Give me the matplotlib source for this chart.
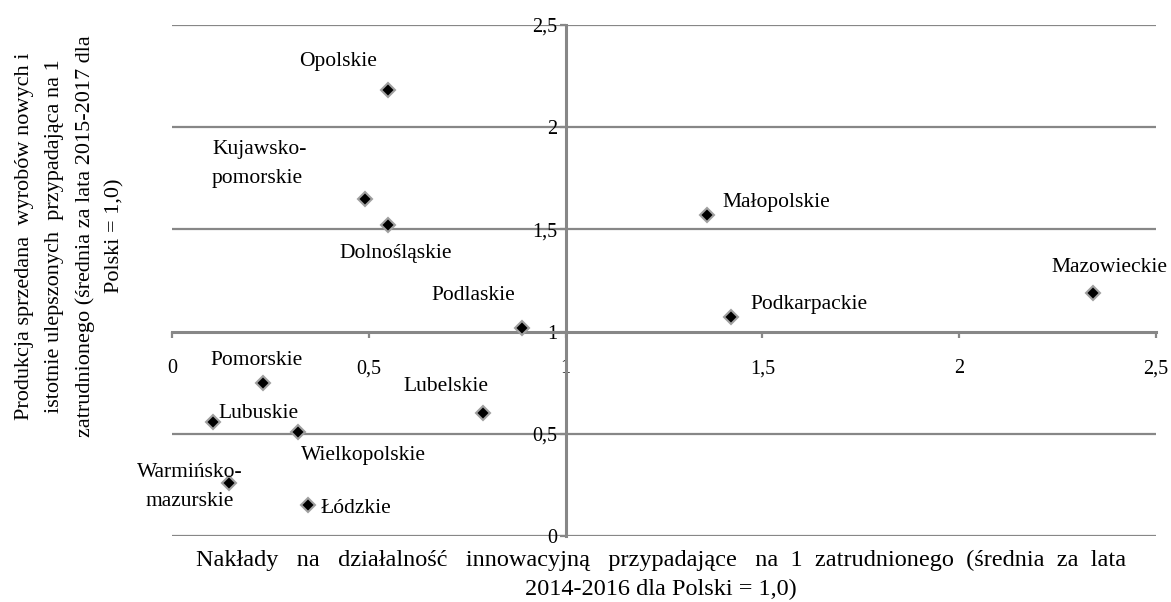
import matplotlib
matplotlib.use("Agg")
import matplotlib.pyplot as plt
from matplotlib.ticker import FuncFormatter

plt.rcParams['font.family'] = ['Liberation Serif', 'DejaVu Serif']

# dane: wojewodztwa
regions = ["Opolskie", "Kujawsko-\npomorskie", "Dolnośląskie", "Podlaskie",
           "Małopolskie", "Mazowieckie", "Podkarpackie", "Pomorskie",
           "Lubuskie", "Wielkopolskie", "Lubelskie", "Warmińsko-\nmazurskie",
           "Łódzkie"]
nakłady = [0.55, 0.49, 0.55, 0.89, 1.36, 2.34, 1.42, 0.23, 0.105, 0.32, 0.79, 0.145, 0.345]
produkcja = [2.18, 1.65, 1.52, 1.02, 1.57, 1.19, 1.07, 0.75, 0.56, 0.51, 0.60, 0.26, 0.15]
ticks = [0, 0.5, 1, 1.5, 2, 2.5]

# label offsets (points), alignment, line spacing
label_style = {
    "Opolskie": ((-36, 21), 'center', 1.0),
    "Kujawsko-\npomorskie": ((-110, 25), 'left', 1.75),
    "Dolnośląskie": ((5, -20), 'center', 1.0),
    "Podlaskie": ((-35, 23), 'center', 1.0),
    "Małopolskie": ((11, 9), 'left', 1.0),
    "Mazowieckie": ((12, 18), 'center', 1.0),
    "Podkarpackie": ((14, 9), 'left', 1.0),
    "Pomorskie": ((-4, 16), 'center', 1.0),
    "Lubuskie": ((4, 6), 'left', 1.0),
    "Wielkopolskie": ((47, -17), 'center', 1.0),
    "Lubelskie": ((-27, 19), 'center', 1.0),
    "Warmińsko-\nmazurskie": ((-28, -3), 'center', 1.65),
    "Łódzkie": ((9, -2), 'left', 1.0),
}

fig = plt.figure(figsize=(11.71, 6.02), dpi=100)
ax = fig.add_axes([172 / 1171, 66 / 602, 984 / 1171, 511 / 602])

gray = '#878787'
ax.set_xlim(0, 2.5)
ax.set_ylim(0, 2.5)
ax.set_xticks(ticks)
ax.set_yticks(ticks)
fmt = FuncFormatter(lambda v, p: ('%g' % v).replace('.', ','))
ax.xaxis.set_major_formatter(fmt)
ax.yaxis.set_major_formatter(fmt)

for y in ticks:
    if y != 1:
        ax.axhline(y, color=gray, lw=1.6, zorder=1)

ax.spines['left'].set_position(('data', 1))
ax.spines['bottom'].set_position(('data', 1))
for s in ['left', 'bottom']:
    ax.spines[s].set_color(gray)
    ax.spines[s].set_linewidth(2.2)
ax.spines['top'].set_visible(False)
ax.spines['right'].set_visible(False)
ax.tick_params(axis='both', colors=gray, labelcolor='black', labelsize=14.5,
               direction='out', length=4, width=1.6)
ax.tick_params(axis='x', pad=16)
ax.tick_params(axis='y', pad=2)

ax.plot(nakłady, produkcja, linestyle='none', marker='D', markersize=7.5,
        markerfacecolor='black', markeredgecolor='#a0a0a0', markeredgewidth=1.5, zorder=3)

for name, x, y in zip(regions, nakłady, produkcja):
    off, ha, ls = label_style[name]
    ax.annotate(name, (x, y), xytext=off, textcoords='offset points',
                ha=ha, va='center', fontsize=15.5, linespacing=ls)

fig.text(70 / 1171, 1 - 236 / 602,
         "Produkcja sprzedana  wyrobów nowych i\nistotnie ulepszonych  przypadająca na 1\n"
         "zatrudnionego (średnia za lata 2015-2017 dla\nPolski = 1,0)",
         rotation=90, ha='center', va='center', fontsize=16, linespacing=1.75,
         multialignment='center')
fig.text(661 / 1171, 1 - 575 / 602,
         "Nakłady   na   działalność   innowacyjną   przypadające   na  1  zatrudnionego  (średnia  za  lata\n"
         "2014-2016 dla Polski = 1,0)",
         ha='center', va='center', fontsize=17.5, linespacing=1.45)

fig.savefig("out.png", dpi=100)
